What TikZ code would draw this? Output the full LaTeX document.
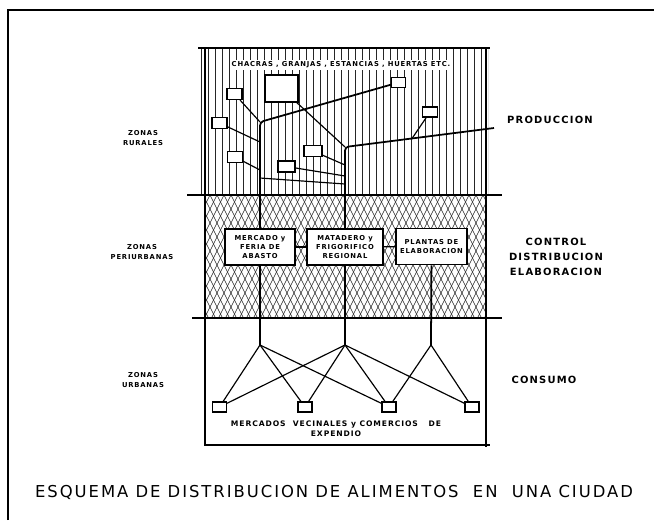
\documentclass[tikz,border=0pt]{standalone}
\usepackage{fontspec}
\setmainfont{DejaVu Sans}
\newfontfamily\rotulo[LetterSpace=12]{DejaVu Sans}
\usetikzlibrary{positioning}
\tikzset{
    marco/.style   = {line width=2pt},
    borde/.style   = {line width=0.9pt},
    rayado/.style  = {line width=0.55pt, black!85},
    tronco/.style  = {line width=1.5pt, rounded corners=3pt},
    rama/.style    = {line width=1pt},
    cajita/.style  = {draw, fill=white, line width=1pt, inner sep=0pt,
                      minimum width=0.45cm, minimum height=0.33cm},
    planta/.style  = {draw, fill=white, line width=1.5pt, align=center, inner sep=1pt,
                      minimum width=2.1cm, minimum height=1.08cm,
                      font=\rotulo\fontsize{5.8}{7.8}\selectfont\bfseries},
    zona/.style    = {align=center, inner sep=1pt,
                      font=\rotulo\fontsize{5.8}{9}\selectfont\bfseries},
    funcion/.style = {align=center, inner sep=1pt,
                      font=\rotulo\fontsize{8.5}{13}\selectfont\bfseries}
}

\begin{document}
\begin{tikzpicture}[x=0.03cm, y=-0.03cm]
    \useasboundingbox (0,0) rectangle (654,520);

    % --- Marco ---
    \draw[marco] (8,520) -- (8,10) -- (654,10);

    % --- Rayados ---
    \begin{scope}
        \clip (199,48) rectangle (488,195);
        \foreach \x in {201,208,...,488}
            \draw[rayado] (\x,48) -- (\x,195);
    \end{scope}
    \begin{scope}
        \clip (205,195) rectangle (486,318);
        \foreach \x in {140,147,...,560} {
            \draw[rayado] (\x,195) -- ++(62,124);
            \draw[rayado] (\x,195) -- ++(-62,124);
        }
    \end{scope}

    % --- Limites de zonas ---
    \draw[borde] (198,48) -- (490,48);
    \draw[borde] (187,195) -- (502,195);
    \draw[borde] (192,318) -- (502,318);
    \draw[borde] (204,445) -- (490,445);
    \draw[borde] (205,48) -- (205,445);
    \draw[borde] (486,48) -- (486,447);

    % --- Produccion ---
    \node[zona, fill=white, inner sep=1.5pt] (campo) at (341,65)
        {CHACRAS , GRANJAS , ESTANCIAS , HUERTAS ETC.};
    \node[cajita] (ra) at (234.5,94) {};
    \node[cajita, minimum width=0.99cm, minimum height=0.81cm] (rb) at (281.5,88.5) {};
    \node[cajita, minimum width=0.42cm, minimum height=0.3cm] (rc) at (398.5,82.5) {};
    \node[cajita] (rd) at (219.5,123) {};
    \node[cajita, minimum height=0.3cm] (re) at (430,112) {};
    \node[cajita] (rf) at (235,157) {};
    \node[cajita, minimum width=0.54cm] (rg) at (313,151) {};
    \node[cajita, minimum width=0.51cm] (rh) at (286.5,166.5) {};

    % --- Control, distribucion, elaboracion ---
    \node[planta] (mercado)  at (260,247) {MERCADO y\\FERIA DE\\ABASTO};
    \node[planta, minimum width=2.28cm] (matadero) at (345,247) {MATADERO y\\FRIGORIFICO\\REGIONAL};
    \node[planta, minimum width=2.13cm] (plantas)  at (431.5,246.5) {PLANTAS DE\\ELABORACION};

    \draw[rama] (mercado) -- (matadero);
    \draw[rama] (matadero) -- (plantas);

    % --- Consumo ---
    \node[cajita, minimum width=0.42cm, minimum height=0.3cm] (m1) at (219.5,407) {};
    \node[cajita, minimum width=0.42cm, minimum height=0.3cm] (m2) at (305,407) {};
    \node[cajita, minimum width=0.42cm, minimum height=0.3cm] (m3) at (389,407) {};
    \node[cajita, minimum width=0.42cm, minimum height=0.3cm] (m4) at (472,407) {};
    \node[zona, font=\rotulo\fontsize{6.5}{8.5}\selectfont\bfseries] (mercados) at (336,429)
        {MERCADOS \ VECINALES y COMERCIOS \ \ DE\\EXPENDIO};

    % --- Red de distribucion ---
    \coordinate (pi) at (260,122);
    \coordinate (pd) at (260,142);
    \coordinate (pf) at (260,170);
    \coordinate (pl) at (260,178);
    \coordinate (pc) at (345,147);
    \coordinate (pg) at (345,165);
    \coordinate (ph) at (345,176);
    \coordinate (pm) at (345,184);
    \coordinate (pe) at (412,138.5);
    \coordinate (fin) at (494,128);
    \coordinate (ul) at (260,345);
    \coordinate (um) at (345,345);
    \coordinate (ur) at (431,345);

    \draw[tronco] (rc) -- (pi) -- (mercado);
    \draw[tronco] (fin) -- (pc) -- (matadero);
    \draw[rama] (ra) -- (pi);
    \draw[rama] (rb) -- (pc);
    \draw[rama] (rd) -- (pd);
    \draw[rama] (rf) -- (pf);
    \draw[rama] (re) -- (pe);
    \draw[rama] (rg) -- (pg);
    \draw[rama] (rh) -- (ph);
    \draw[rama] (pl) -- (pm);

    \draw[tronco] (mercado) -- (ul);
    \draw[tronco] (matadero) -- (um);
    \draw[tronco] (plantas) -- (ur);
    \foreach \c/\m in {ul/m1, ul/m2, ul/m3, um/m1, um/m2, um/m3, um/m4, ur/m3, ur/m4}
        \draw[rama] (\c) -- (\m);

    % --- Rotulos ---
    \node[zona] (rurales)     at (143,138) {ZONAS\\RURALES};
    \node[zona] (periurbanas) at (142,252) {ZONAS\\PERIURBANAS};
    \node[zona] (urbanas)     at (143,380) {ZONAS\\URBANAS};

    \node[funcion] (produccion) at (550,120) {PRODUCCION};
    \node[funcion] (control)    at (556,257) {CONTROL\\DISTRIBUCION\\ELABORACION};
    \node[funcion] (consumo)    at (544,380) {CONSUMO};

    \node[font=\rotulo\fontsize{14}{16}\selectfont, inner sep=0pt] (titulo) at (334,492)
        {ESQUEMA DE DISTRIBUCION DE ALIMENTOS \ EN \ UNA CIUDAD};
\end{tikzpicture}
\end{document}
